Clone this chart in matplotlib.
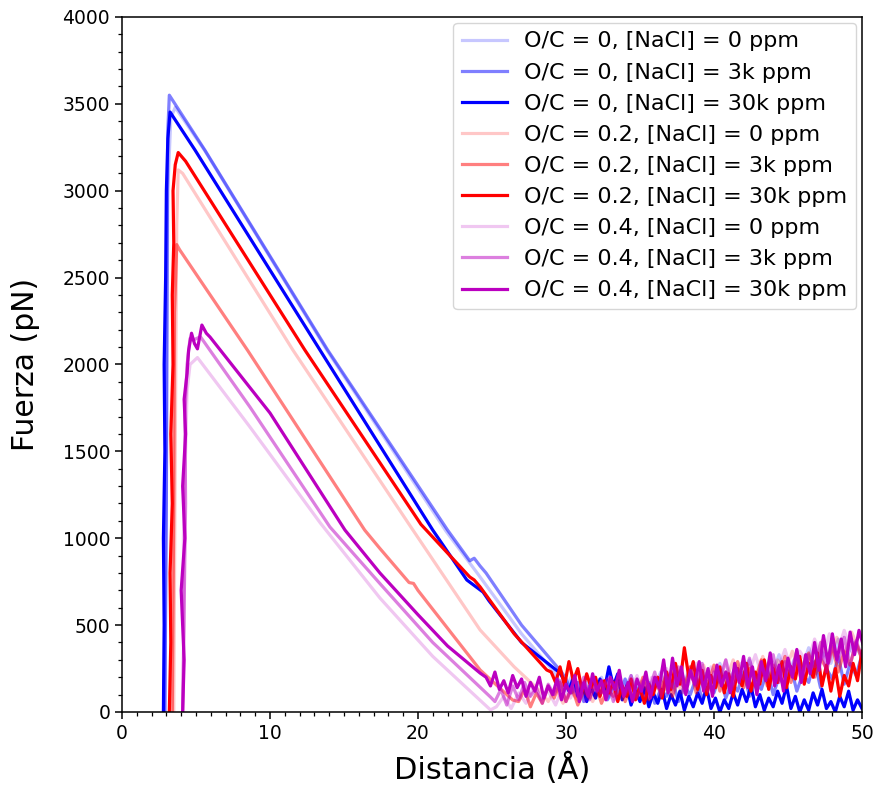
import numpy as np
import matplotlib
matplotlib.use("Agg")
import matplotlib.pyplot as plt
from matplotlib.ticker import MultipleLocator

labels = [
    "O/C = 0, [NaCl] = 0 ppm", "O/C = 0, [NaCl] = 3k ppm", "O/C = 0, [NaCl] = 30k ppm",
    "O/C = 0.2, [NaCl] = 0 ppm", "O/C = 0.2, [NaCl] = 3k ppm", "O/C = 0.2, [NaCl] = 30k ppm",
    "O/C = 0.4, [NaCl] = 0 ppm", "O/C = 0.4, [NaCl] = 3k ppm", "O/C = 0.4, [NaCl] = 30k ppm",
]
base_colors = ["#0000ff"] * 3 + ["#ff0000"] * 3 + ["#bb00c0"] * 3
alphas = [0.22, 0.5, 1.0] * 3

# ---- O/C = 0, 0 ppm
oc0_0_x = [2.9, 3.0, 3.1, 3.3, 3.6, 5.6, 13.9, 21.9, 24.0, 27.0, 29.0]
oc0_0_y = [0, 1500, 3000, 3420, 3480, 3230, 2075, 1040, 800, 450, 250]
oc0_0_tail_start, oc0_0_tail_step = 29.4, 0.5
oc0_0_tail = [200, 120, 210, 90, 170, 110, 200, 80, 160, 120, 210, 90, 180, 130, 230, 100, 200,
              150, 260, 120, 220, 170, 280, 140, 250, 190, 300, 160, 270, 210, 330, 180, 300, 240,
              370, 220, 340, 280, 420, 300, 400, 330]

# ---- O/C = 0, 3k ppm
oc0_3k_x = [2.9, 3.0, 3.05, 3.1, 3.2, 5.6, 13.9, 22.0, 23.5, 23.8, 24.2, 24.6, 27.0, 29.7]
oc0_3k_y = [0, 1200, 2600, 3350, 3550, 3234, 2083, 1047, 870, 885, 840, 800, 500, 230]
oc0_3k_tail_start, oc0_3k_tail_step = 30.0, 0.4
oc0_3k_tail = [190, 110, 170, 60, 150, 90, 180, 70, 160, 100, 190, 60, 140, 80, 170, 50, 130, 90,
               180, 60, 150, 100, 200, 70, 160, 110, 210, 80, 170, 120, 230, 90, 180, 130, 240, 100,
               200, 150, 260, 120, 220, 170, 290, 140, 250, 190, 320, 160, 280, 210, 330]

# ---- O/C = 0, 30k ppm
oc0_30k_x = [2.8, 2.85, 2.8, 2.9, 2.85, 2.95, 3.0, 3.1, 3.25, 4.93, 13.38, 21.0, 23.3, 24.4, 24.8,
             27.0, 29.6]
oc0_30k_y = [0, 500, 1000, 1500, 2000, 2500, 3000, 3300, 3453, 3235, 2083, 1047, 760, 690, 640,
             400, 224]
oc0_30k_tail_start, oc0_30k_tail_step = 29.9, 0.3
oc0_30k_tail = [180, 120, 200, 90, 160, 60, 140, 80, 190, 130, 260, 150, 220, 70, 150, 40, 120, 60,
                140, 30, 110, 50, 130, 20, 100, 40, 120, 10, 90, 30, 110, 50, 140, 20, 80, 0, 70,
                20, 110, 40, 130, 60, 150, 30, 100, 10, 80, 30, 120, 50, 150, 20, 90, 0, 70, 10,
                110, 40, 130, 20, 60, 0, 90, 30, 120, 10, 70, 20]

# ---- O/C = 0.2, 0 ppm
oc02_0_x = [3.5, 3.6, 3.7, 3.8, 4.1, 11.55, 19.4, 24.2, 26.5, 28.4]
oc02_0_y = [0, 1500, 2800, 3120, 3100, 2083, 1080, 472, 260, 109]
oc02_0_tail_start, oc02_0_tail_step = 28.8, 0.5
oc02_0_tail = [60, 140, 50, 120, 70, 160, 60, 140, 90, 180, 70, 160, 110, 200, 90, 190, 130, 240,
               110, 220, 160, 270, 140, 250, 180, 300, 160, 270, 200, 320, 180, 300, 230, 350, 210,
               330, 270, 410, 290, 430, 320, 460, 360]

# ---- O/C = 0.2, 3k ppm
oc02_3k_x = [3.4, 3.5, 3.55, 3.7, 3.9, 8.5, 16.4, 17.4, 19.4, 19.7, 20.0, 24.2, 26.4]
oc02_3k_y = [0, 1200, 2300, 2690, 2660, 2080, 1047, 944, 745, 740, 700, 242, 69]
oc02_3k_tail_start, oc02_3k_tail_step = 26.8, 0.4
oc02_3k_tail = [60, 130, 30, 110, 50, 150, 80, 170, 60, 140, 40, 120, 80, 160, 50, 130, 90, 180, 60,
                150, 100, 200, 70, 170, 120, 230, 90, 200, 140, 260, 110, 220, 160, 270, 120, 230,
                170, 290, 140, 250, 180, 300, 150, 270, 200, 320, 170, 290, 220, 340, 200, 310, 250,
                380, 230, 350, 270, 400, 300]

# ---- O/C = 0.2, 30k ppm
oc02_30k_x = [3.2, 3.3, 3.25, 3.4, 3.3, 3.45, 3.4, 3.5, 3.45, 3.6, 3.8, 4.3, 12.36, 20.2, 23.5,
              23.8, 24.2, 26.5, 28.7]
oc02_30k_y = [0, 400, 800, 1200, 1600, 2000, 2400, 2700, 3000, 3150, 3220, 3170, 2083, 1080, 777,
              760, 720, 450, 242]
oc02_30k_tail_start, oc02_30k_tail_step = 29.0, 0.3
oc02_30k_tail = [230, 170, 260, 150, 290, 180, 250, 120, 220, 140, 200, 90, 180, 110, 170, 60, 150,
                 90, 190, 70, 140, 50, 160, 100, 200, 80, 230, 130, 280, 160, 370, 200, 290, 130,
                 240, 100, 210, 140, 260, 110, 220, 90, 250, 150, 280, 120, 230, 160, 300, 130, 250,
                 170, 290, 140, 260, 190, 320, 160, 280, 200, 340, 150, 270, 120, 250, 90, 210, 150,
                 280, 180, 350]

# ---- O/C = 0.4, 0 ppm
oc04_0_x = [4.1, 4.2, 4.15, 4.3, 4.4, 4.6, 5.1, 8.65, 13.4, 17.43, 21.0, 24.9]
oc04_0_y = [0, 500, 1000, 1500, 1850, 2000, 2040, 1640, 1088, 656, 320, 12]
oc04_0_tail_start, oc04_0_tail_step = 25.3, 0.5
oc04_0_tail = [30, 90, 20, 110, 50, 140, 70, 120, 40, 150, 80, 170, 60, 140, 100, 190, 70, 160, 110,
               210, 90, 200, 130, 250, 110, 220, 160, 280, 140, 260, 190, 300, 160, 280, 210, 330,
               190, 310, 240, 360, 220, 350, 280, 420, 300, 450, 330, 470, 350, 440]

# ---- O/C = 0.4, 3k ppm
oc04_3k_x = [4.1, 4.2, 4.3, 4.25, 4.4, 4.6, 4.8, 5.3, 8.65, 14.05, 17.4, 21.0, 24.9]
oc04_3k_y = [0, 600, 1200, 1700, 2000, 2150, 2140, 2160, 1755, 1065, 742, 400, 86]
oc04_3k_tail_start, oc04_3k_tail_step = 25.2, 0.4
oc04_3k_tail = [60, 130, 40, 150, 70, 170, 90, 140, 50, 160, 100, 180, 60, 150, 90, 200, 70, 160,
                110, 190, 60, 170, 100, 210, 80, 180, 120, 230, 90, 200, 140, 260, 110, 220, 150,
                280, 120, 230, 170, 300, 130, 250, 190, 310, 150, 270, 200, 330, 170, 290, 220, 350,
                200, 330, 260, 400, 230, 380, 290, 430, 270, 410, 320]

# ---- O/C = 0.4, 30k ppm
oc04_30k_x = [4.1, 4.2, 4.0, 4.25, 4.1, 4.3, 4.2, 4.4, 4.5, 4.7, 4.9, 5.1, 5.4, 5.7, 5.95, 10.0,
              15.07, 17.43, 20.0, 22.0, 24.2]
oc04_30k_y = [0, 300, 700, 1000, 1300, 1600, 1800, 1950, 2080, 2180, 2120, 2090, 2227, 2180, 2158,
              1721, 1047, 800, 560, 380, 224]
oc04_30k_tail_start, oc04_30k_tail_step = 24.6, 0.3
oc04_30k_tail = [200, 150, 230, 130, 180, 110, 210, 140, 190, 90, 170, 120, 200, 80, 150, 100, 190,
                 70, 160, 110, 210, 60, 170, 90, 220, 120, 180, 70, 200, 130, 240, 90, 170, 60, 190,
                 120, 230, 80, 200, 140, 300, 110, 310, 150, 260, 100, 240, 160, 290, 120, 250, 90,
                 270, 150, 230, 110, 280, 170, 320, 140, 260, 100, 290, 180, 340, 150, 270, 120, 310,
                 200, 360, 170, 330, 220, 400, 240, 440, 280, 450, 300, 420, 260, 460, 330, 470, 380]

series = [
    (oc0_0_x, oc0_0_y, oc0_0_tail_start, oc0_0_tail_step, oc0_0_tail),
    (oc0_3k_x, oc0_3k_y, oc0_3k_tail_start, oc0_3k_tail_step, oc0_3k_tail),
    (oc0_30k_x, oc0_30k_y, oc0_30k_tail_start, oc0_30k_tail_step, oc0_30k_tail),
    (oc02_0_x, oc02_0_y, oc02_0_tail_start, oc02_0_tail_step, oc02_0_tail),
    (oc02_3k_x, oc02_3k_y, oc02_3k_tail_start, oc02_3k_tail_step, oc02_3k_tail),
    (oc02_30k_x, oc02_30k_y, oc02_30k_tail_start, oc02_30k_tail_step, oc02_30k_tail),
    (oc04_0_x, oc04_0_y, oc04_0_tail_start, oc04_0_tail_step, oc04_0_tail),
    (oc04_3k_x, oc04_3k_y, oc04_3k_tail_start, oc04_3k_tail_step, oc04_3k_tail),
    (oc04_30k_x, oc04_30k_y, oc04_30k_tail_start, oc04_30k_tail_step, oc04_30k_tail),
]

fig = plt.figure(figsize=(8.8, 7.87), dpi=100)
ax = fig.add_axes([0.1386, 0.0953, 0.9795 - 0.1386, 0.9784 - 0.0953])

for (kx, ky, ts, st, tail), lab, col, a in zip(series, labels, base_colors, alphas):
    tx = ts + st * np.arange(len(tail))
    x = np.concatenate([np.array(kx, float), tx])
    y = np.concatenate([np.array(ky, float), np.array(tail, float)])
    ax.plot(x, y, color=col, alpha=a, lw=2.3, label=lab)

ax.set_xlim(0, 50)
ax.set_ylim(0, 4000)
ax.xaxis.set_major_locator(MultipleLocator(10))
ax.xaxis.set_minor_locator(MultipleLocator(1))
ax.yaxis.set_major_locator(MultipleLocator(500))
ax.yaxis.set_minor_locator(MultipleLocator(100))
ax.tick_params(axis="both", which="major", labelsize=13.5, length=5, width=1.1)
ax.tick_params(axis="both", which="minor", length=3, width=0.9)
for s in ax.spines.values():
    s.set_linewidth(1.1)
ax.set_xlabel("Distancia (Å)", fontsize=22, labelpad=7)
ax.set_ylabel("Fuerza (pN)", fontsize=21.5, labelpad=16)
ax.legend(loc="upper right", fontsize=16, borderaxespad=0.25, handlelength=2.0)

fig.savefig("out.png", dpi=100)
